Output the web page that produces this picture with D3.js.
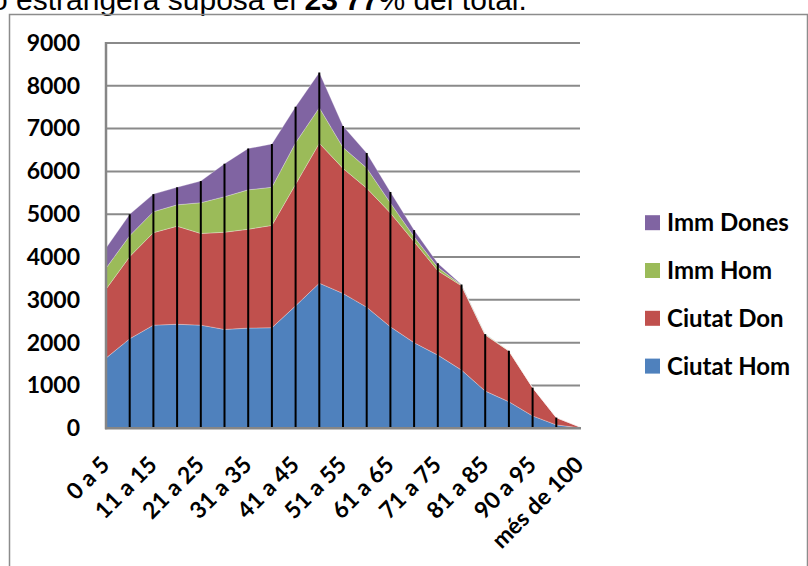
<!DOCTYPE html>
<html><head><meta charset="utf-8">
<script src="https://cdn.jsdelivr.net/npm/d3@7"></script>
<style>html,body{margin:0;padding:0;background:#fff;overflow:hidden}</style>
</head><body>
<svg id="c" width="808" height="566"></svg>
<script>
const categories = ["0 a 5","6 a 10","11 a 15","16 a 20","21 a 25","26 a 30","31 a 35","36 a 40","41 a 45","46 a 50","51 a 55","56 a 60","61 a 65","66 a 70","71 a 75","76 a 80","81 a 85","86 a 90","90 a 95","96 a 100","més de 100"];
const labelCategories = ["0 a 5","11 a 15","21 a 25","31 a 35","41 a 45","51 a 55","61 a 65","71 a 75","81 a 85","90 a 95","més de 100"];
const ciutatHom = [1640,2090,2410,2430,2410,2310,2340,2350,2860,3390,3150,2830,2370,2000,1710,1360,870,620,290,80,10];
const ciutatDon = [1610,1920,2160,2290,2140,2270,2310,2390,2840,3270,2920,2780,2660,2360,1970,1970,1310,1185,660,170,20];
const immHom    = [490,490,490,500,720,830,920,890,970,830,490,470,235,115,80,18,15,4,0,0,0];
const immDones  = [470,500,410,410,505,770,965,1010,840,820,500,350,255,155,95,10,5,4,0,0,0];
const seriesNames = ["Ciutat Hom","Ciutat Don","Imm Hom","Imm Dones"];
const seriesColors = ["#4F81BD","#C0504D","#9BBB59","#8064A2"];
const yTicks = [0,1000,2000,3000,4000,5000,6000,7000,8000,9000];

const svg = d3.select("#c");
const font = "Lato, 'Open Sans', sans-serif";

// header text (cut off at top, as in the reference)
const head = svg.append("text").attr("x",-9).attr("y",10)
  .attr("font-family","'Liberation Sans', Arial, sans-serif").attr("font-size",30).attr("fill","#000");
head.append("tspan").text("o estrangera suposa el ");
head.append("tspan").attr("font-weight","bold").text("23'77");
head.append("tspan").text("% del total.");

// chart frame
svg.append("path").attr("d","M9.5,570 V14.5 H807.5 V570").attr("fill","none")
  .attr("stroke","#8c8c8c").attr("stroke-width",1.5);

const x0 = 106, x1 = 580, yTop = 43, yBot = 428.3;
const x = d3.scalePoint().domain(categories).range([x0,x1]);
const y = d3.scaleLinear().domain([0,9000]).range([yBot,yTop]);

const rows = categories.map((c,i)=>({cat:c,"Ciutat Hom":ciutatHom[i],"Ciutat Don":ciutatDon[i],"Imm Hom":immHom[i],"Imm Dones":immDones[i]}));
const stacked = d3.stack().keys(seriesNames)(rows);

// gridlines
svg.append("g").selectAll("line").data(yTicks.filter(t=>t>0)).join("line")
  .attr("x1",x0).attr("x2",x1).attr("y1",d=>y(d)).attr("y2",d=>y(d))
  .attr("stroke","#8a8a8a").attr("stroke-width",2);

// areas
const area = d3.area().x(d=>x(d.data.cat)).y0(d=>y(d[0])).y1(d=>y(d[1]));
svg.append("g").selectAll("path").data(stacked).join("path")
  .attr("d",area).attr("fill",(d,i)=>seriesColors[i])
  .attr("stroke","#ffffff").attr("stroke-opacity",0.35).attr("stroke-width",0.8);

// drop lines
const topSeries = stacked[stacked.length-1];
svg.append("g").selectAll("line").data(topSeries.slice(1)).join("line")
  .attr("x1",d=>x(d.data.cat)).attr("x2",d=>x(d.data.cat))
  .attr("y1",d=>y(d[1])).attr("y2",yBot)
  .attr("stroke","#000").attr("stroke-width",2);

// axes lines
svg.append("line").attr("x1",x0).attr("x2",x0).attr("y1",yTop-1).attr("y2",yBot+1)
  .attr("stroke","#868686").attr("stroke-width",2.5);
svg.append("line").attr("x1",x0-1).attr("x2",x1+1).attr("y1",yBot).attr("y2",yBot)
  .attr("stroke","#868686").attr("stroke-width",2.5);

// y axis labels
const yAxis = d3.axisLeft(y).tickValues(yTicks).tickFormat(d3.format("d")).tickSize(0).tickPadding(26);
const gy = svg.append("g").attr("transform",`translate(${x0},0)`).call(yAxis);
gy.select(".domain").remove();
gy.selectAll("text").attr("font-family",font).attr("font-weight","bold").attr("font-size",23).attr("fill","#000");

// x axis labels
const gx = svg.append("g");
gx.selectAll("text").data(labelCategories).join("text")
  .attr("transform",d=>`translate(${x(d)+5},${yBot+38}) rotate(-45)`)
  .attr("text-anchor","end")
  .attr("font-family",font).attr("font-weight","bold").attr("font-size",23).attr("fill","#000")
  .text(d=>d);

// legend
const legNames = seriesNames.slice().reverse();
const legColors = seriesColors.slice().reverse();
const lg = svg.append("g").selectAll("g").data(legNames).join("g")
  .attr("transform",(d,i)=>`translate(645,${222.7+i*47.8})`);
lg.append("rect").attr("x",0).attr("y",-7.5).attr("width",15).attr("height",15).attr("fill",(d,i)=>legColors[i]);
lg.append("text").attr("x",22).attr("y",0).attr("dy","0.35em")
  .attr("font-family",font).attr("font-weight","bold").attr("font-size",24).attr("fill","#000").text(d=>d);
</script>
</body></html>
